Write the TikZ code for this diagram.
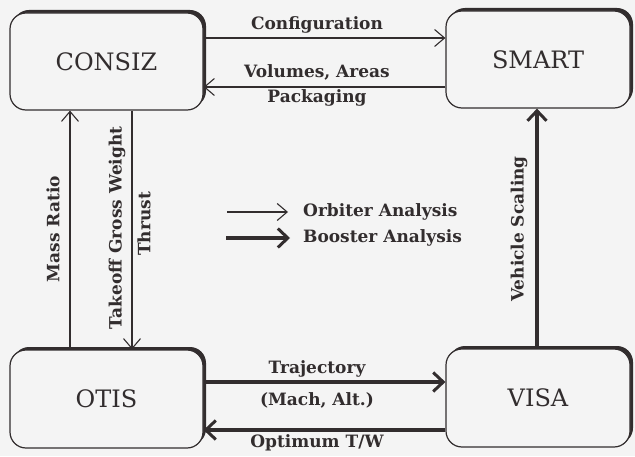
\documentclass[tikz,border=0pt]{standalone}
\usepackage{fontspec}
\setmainfont{DejaVu Serif}
\usetikzlibrary{arrows.meta,shadows}
\definecolor{ink}{HTML}{322D2E}
\definecolor{bg}{HTML}{F4F4F4}
\begin{document}
\begin{tikzpicture}[x=1pt,y=1pt,
  boxnode/.style={draw=ink, line width=1.2pt, rounded corners=16pt, fill=bg,
    font=\fontsize{24}{28}\selectfont, text=ink,
    general shadow={fill=ink, shadow xshift=3pt, shadow yshift=3pt}},
  lbl/.style={font=\bfseries\fontsize{17}{19}\selectfont, text=ink, inner sep=0pt},
  thinarrow/.style={draw=ink, line width=1.1pt, -{Straight Barb[length=10pt,width=17pt,line width=1.1pt]}},
  thickarrow/.style={draw=ink, line width=3.6pt, -{Straight Barb[length=10pt,width=19pt,line width=3pt]}}]
\fill[bg] (0,0) rectangle (635,456);
\useasboundingbox (0,0) rectangle (635,456);

\node[boxnode, minimum width=193pt, minimum height=97pt] (consiz) at (106.5,394.5) {CONSIZ};
\node[boxnode, minimum width=184pt, minimum height=97pt] (smart) at (538,396.5) {SMART};
\node[boxnode, minimum width=193pt, minimum height=98pt] (otis) at (106.5,57) {OTIS};
\node[boxnode, minimum width=184pt, minimum height=98pt] (visa) at (538,58) {VISA};

% top connectors
\draw[thinarrow] (consiz.east |- 0,418) -- (smart.west |- 0,418);
\draw[thinarrow] (smart.west |- 0,369) -- (consiz.east |- 0,369);
\node[lbl] (lconf) at (317,431) {Configuration};
\node[lbl] (lvol) at (317,384) {Volumes, Areas};
\node[lbl] (lpack) at (317,358) {Packaging};

% left connectors
\draw[thinarrow] (otis.north -| 70,0) -- (consiz.south -| 70,0);
\draw[thinarrow] (consiz.south -| 132,0) -- (otis.north -| 132,0);
\node[lbl, rotate=90] (lmass) at (53,227) {Mass Ratio};
\node[lbl, rotate=90] (ltgw) at (117,228) {Takeoff Gross Weight};
\node[lbl, rotate=90] (lthr) at (144,232) {Thrust};

% right connector
\draw[thickarrow] (visa.north -| 537,0) -- (smart.south -| 537,0);
\node[lbl, rotate=90] (lveh) at (519,227) {Vehicle Scaling};

% bottom connectors
\draw[thickarrow] (otis.east |- 0,74) -- (visa.west |- 0,74);
\draw[thickarrow] (visa.west |- 0,26) -- (otis.east |- 0,26);
\node[lbl] (ltraj) at (317,87) {Trajectory};
\node[lbl] (lmach) at (317,56) {(Mach, Alt.)};
\node[lbl] (lopt) at (317,13) {Optimum T/W};

% legend
\coordinate (o1) at (227,244);
\coordinate (o2) at (288,244);
\coordinate (b1) at (226,218);
\coordinate (b2) at (290,218);
\draw[thinarrow] (o1) -- (o2);
\draw[thickarrow] (b1) -- (b2);
\node[lbl, anchor=west] (lorb) at (303,244) {Orbiter Analysis};
\node[lbl, anchor=west] (lboo) at (303,218) {Booster Analysis};
\end{tikzpicture}
\end{document}
